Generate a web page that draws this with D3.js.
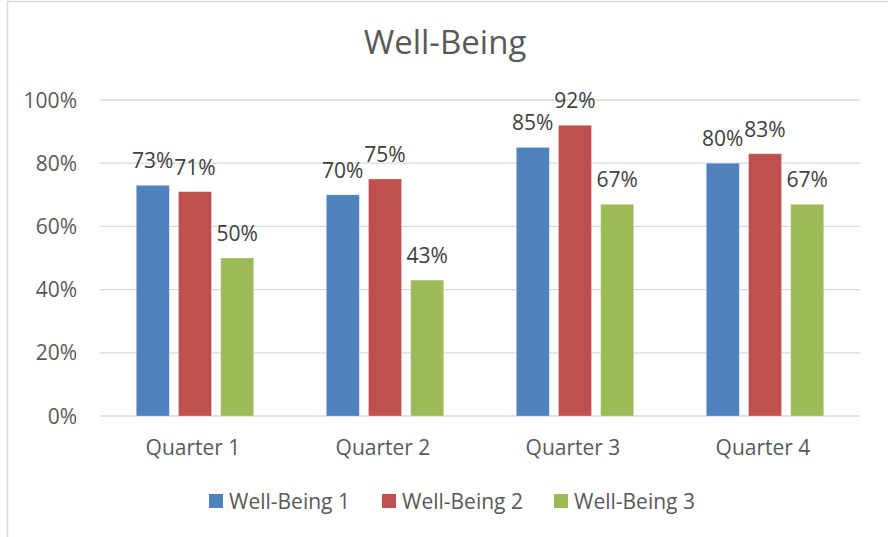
<!DOCTYPE html>
<html><head><meta charset="utf-8">
<script src="https://cdn.jsdelivr.net/npm/d3@7"></script>
<style>
html,body{margin:0;padding:0;background:#fff;}
svg{display:block;font-family:"Open Sans",sans-serif;}
</style></head>
<body>
<svg id="c" width="888" height="537"></svg>
<script>
const categories = ["Quarter 1","Quarter 2","Quarter 3","Quarter 4"];
const seriesNames = ["Well-Being 1","Well-Being 2","Well-Being 3"];
const wellBeing1 = [73,70,85,80];
const wellBeing2 = [71,75,92,83];
const wellBeing3 = [50,43,67,67];
const yTicks = [0,20,40,60,80,100];
const colors = ["#4F81BD","#C0504D","#9BBB59"];

(function(){
const seriesValues = [wellBeing1, wellBeing2, wellBeing3];
const svg = d3.select("#c");
const W = 888, H = 537;
const fs = 21;

// chart border
svg.append("rect").attr("x",7.5).attr("y",1.5).attr("width",W+20).attr("height",H+20)
  .attr("fill","#fff").attr("stroke","#d9d9d9").attr("stroke-width",1.5);

const pL = 100, pR = 860, pT = 100, pB = 416;
const x0 = d3.scaleBand().domain(categories).range([pL,pR]);
const barW = 33, step = 42.2;
const x1 = d3.scaleBand().domain(seriesNames).range([-step*1.5, step*1.5]);
const y = d3.scaleLinear().domain([0,100]).range([pB,pT]);

// gridlines
svg.append("g").selectAll("line").data(yTicks).join("line")
  .attr("x1",pL).attr("x2",pR)
  .attr("y1",d=>y(d)).attr("y2",d=>y(d))
  .attr("stroke","#d9d9d9").attr("stroke-width",1.3);

// y labels
svg.append("g").selectAll("text").data(yTicks).join("text")
  .attr("x",77).attr("y",d=>y(d)).attr("dy","0.36em")
  .attr("text-anchor","end").attr("font-size",fs).attr("fill","#595959")
  .text(d=>d+"%");

// bars
const groups = svg.append("g").selectAll("g").data(seriesNames).join("g");
groups.each(function(s,si){
  const g = d3.select(this);
  const data = categories.map((c,ci)=>({c, v: seriesValues[si][ci]}));
  g.selectAll("rect").data(data).join("rect")
    .attr("x",d=>x0(d.c)+x0.bandwidth()/2 + x1(s) + (step-barW)/2)
    .attr("width",barW)
    .attr("y",d=>y(d.v)).attr("height",d=>y(0)-y(d.v))
    .attr("fill",colors[si]).attr("stroke","rgba(255,255,255,0.35)").attr("stroke-width",0.8);
  g.selectAll("text").data(data).join("text")
    .attr("x",d=>x0(d.c)+x0.bandwidth()/2 + x1(s) + step/2)
    .attr("y",d=>y(d.v)-17)
    .attr("text-anchor","middle").attr("font-size",fs).attr("fill","#404040")
    .text(d=>d.v+"%");
});

// category labels
svg.append("g").selectAll("text").data(categories).join("text")
  .attr("x",d=>x0(d)+x0.bandwidth()/2-2).attr("y",455)
  .attr("text-anchor","middle").attr("font-size",fs).attr("fill","#595959")
  .text(d=>d);

// title
svg.append("text").attr("x",445).attr("y",54).attr("text-anchor","middle")
  .attr("font-size",33).attr("fill","#595959").text("Well-Being");

// legend
const legX = [209,382,554];
const leg = svg.append("g").selectAll("g").data(seriesNames).join("g")
  .attr("transform",(d,i)=>`translate(${legX[i]},0)`);
leg.append("rect").attr("x",0).attr("y",494).attr("width",14).attr("height",14)
  .attr("fill",(d,i)=>colors[i]);
leg.append("text").attr("x",20).attr("y",501).attr("dy","0.36em")
  .attr("font-size",fs).attr("fill","#595959").text(d=>d);
})();
</script>
</body></html>
